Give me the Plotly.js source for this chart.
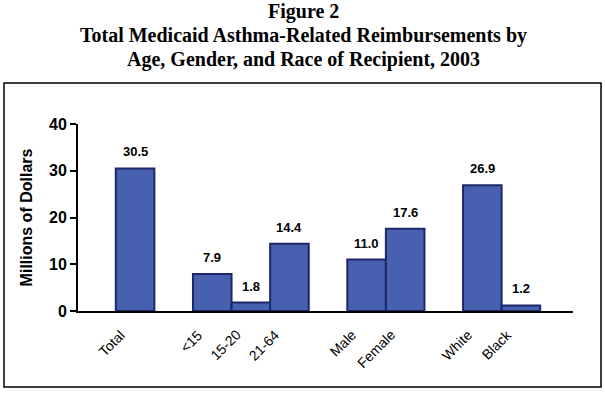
<!DOCTYPE html>
<html>
<head>
<meta charset="utf-8">
<script src="https://cdn.plot.ly/plotly-3.0.1.min.js"></script>
<style>html,body{margin:0;padding:0;background:#fff;}#chart{width:605px;height:395px;}</style>
</head>
<body>
<div id="chart"></div>
<script>
// Data
var categories = ["Total", "<15", "15-20", "21-64", "Male", "Female", "White", "Black"];
var values = [30.5, 7.9, 1.8, 14.4, 11.0, 17.6, 26.9, 1.2];
// Category order with blank spacers between groups
var categoryOrder = [" ", "Total", "  ", "<15", "15-20", "21-64", "   ", "Male", "Female", "    ", "White", "Black"];
var yTicks = [0, 10, 20, 30, 40];
var titleLines = ["Figure 2", "Total Medicaid Asthma-Related Reimbursements by", "Age, Gender, and Race of Recipient, 2003"];

var W = 605, H = 395;
var L = 78, R = 32, T = 124, B = 84;
var pw = W - L - R, ph = H - T - B;
function px(x) { return (x - L) / pw; }
function py(y) { return (H - B - y) / ph; }

var sans = 'Liberation Sans, Arial, sans-serif';
var serif = 'Liberation Serif, Times New Roman, serif';

var trace = {
  type: 'bar',
  x: categories,
  y: values,
  width: 1,
  marker: { color: '#4761B0', line: { color: '#1E2768', width: 2 } },
  hoverinfo: 'none'
};

var annotations = [];
// value labels
categories.forEach(function (c, i) {
  annotations.push({
    x: c, y: values[i], xref: 'x', yref: 'y',
    text: '<b>' + values[i].toFixed(1) + '</b>', showarrow: false,
    yanchor: 'bottom', yshift: 7,
    font: { family: sans, size: 13, color: '#000' }
  });
});
// rotated category labels
categories.forEach(function (c) {
  annotations.push({
    x: c, y: 0, xref: 'x', yref: 'y',
    text: c.replace('<', '&lt;'), showarrow: false, textangle: -45,
    xanchor: 'right', yanchor: 'top', xshift: -4, yshift: -13,
    font: { family: sans, size: 14, color: '#000' }
  });
});
// title lines
var titleCenters = [11.5, 35.5, 59.5];
titleLines.forEach(function (t, i) {
  annotations.push({
    x: px(303), xref: 'paper', xanchor: 'center',
    y: py(titleCenters[i]), yref: 'paper', yanchor: 'middle',
    text: '<b>' + t + '</b>', showarrow: false,
    font: { family: serif, size: 20, color: '#000' }
  });
});

var layout = {
  width: W, height: H,
  margin: { l: L, r: R, t: T, b: B, pad: 0 },
  paper_bgcolor: '#fff', plot_bgcolor: '#fff',
  showlegend: false,
  bargap: 0,
  xaxis: {
    type: 'category',
    categoryorder: 'array', categoryarray: categoryOrder,
    range: [-0.48, 12.35],
    showline: true, linecolor: '#000', linewidth: 2,
    showgrid: false, zeroline: false,
    ticks: '', showticklabels: false,
    fixedrange: true
  },
  yaxis: {
    range: [0, 40],
    tickvals: yTicks,
    ticktext: yTicks.map(function (v) { return '<b>' + v + '</b>'; }),
    showline: true, linecolor: '#000', linewidth: 2,
    showgrid: false, zeroline: false,
    ticks: 'outside', ticklen: 6, tickwidth: 2, tickcolor: '#000',
    tickfont: { family: sans, size: 16, color: '#000' },
    title: {
      text: '<b>Millions of Dollars</b>',
      font: { family: sans, size: 16, color: '#000' },
      standoff: 12
    },
    fixedrange: true
  },
  annotations: annotations,
  shapes: [{
    type: 'rect', xref: 'paper', yref: 'paper',
    x0: px(4), x1: px(601), y0: py(387), y1: py(83),
    line: { color: '#000', width: 1.5 }, fillcolor: 'rgba(0,0,0,0)', layer: 'below'
  }]
};

Plotly.newPlot('chart', [trace], layout, { staticPlot: true, displayModeBar: false });
</script>
</body>
</html>
